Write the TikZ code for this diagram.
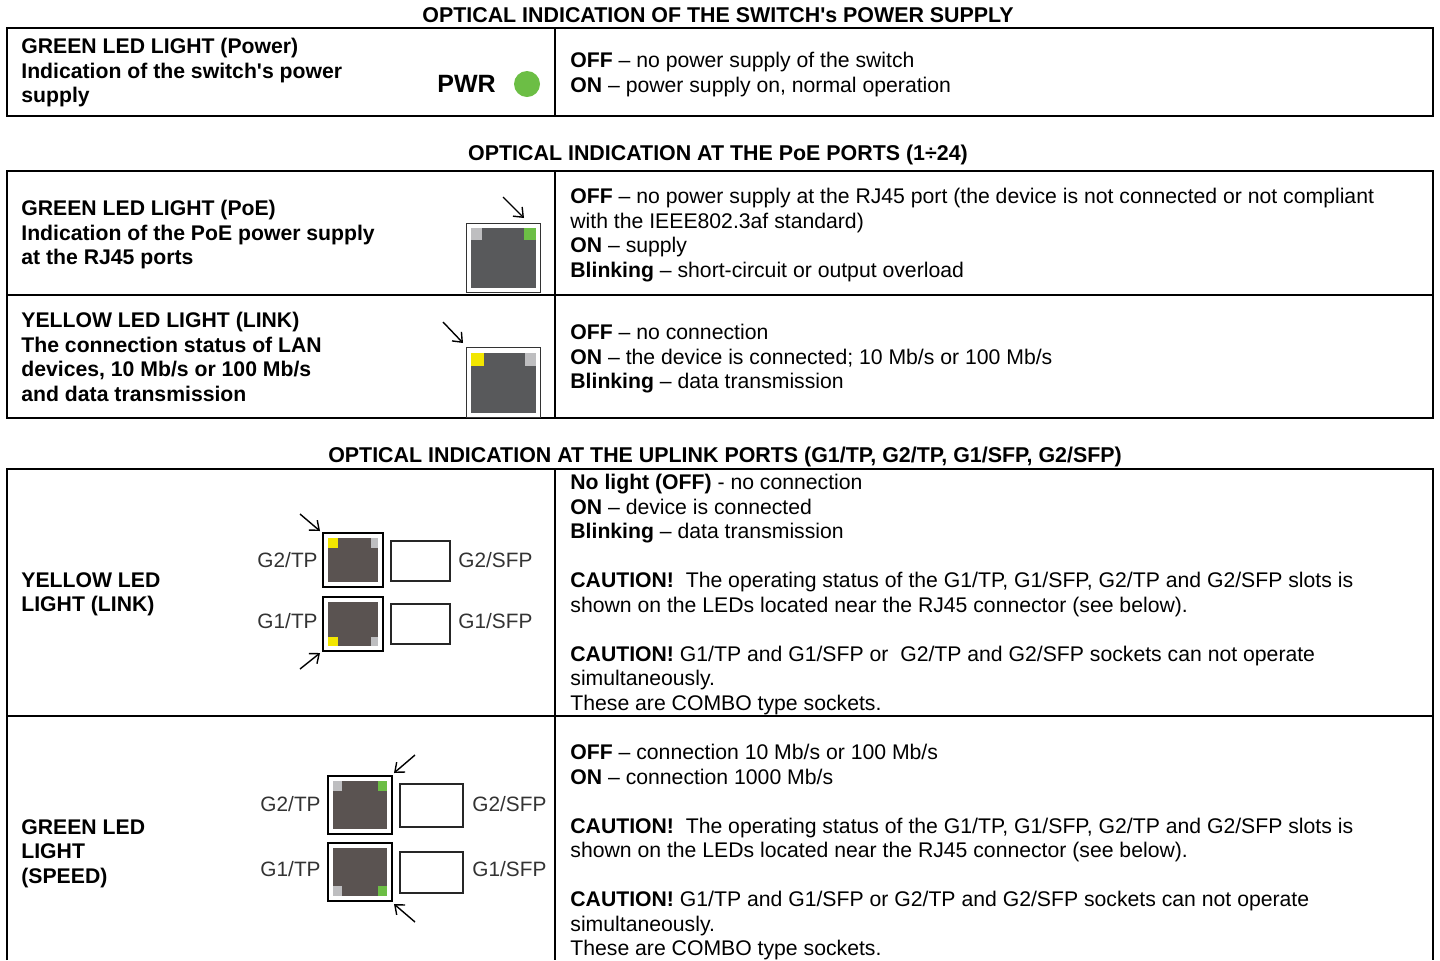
\documentclass[tikz,border=0pt]{standalone}
\usepackage{fontspec}
\setmainfont{Liberation Sans}
\usetikzlibrary{arrows.meta}
\definecolor{ledgreen}{RGB}{108,190,69}
\definecolor{ledyellow}{RGB}{242,230,0}
\definecolor{ledgrey}{RGB}{190,190,192}
\definecolor{jackgrey}{RGB}{88,89,91}
\definecolor{jackbrown}{RGB}{90,83,81}
\tikzset{
	frame/.style={line width=1pt},
	title/.style={font=\bfseries\fontsize{10.7}{12}\selectfont, inner sep=0pt, anchor=base},
	cell/.style={font=\fontsize{10.6}{12.25}\selectfont, inner sep=0pt, anchor=north west, align=left},
	boldcell/.style={cell, font=\bfseries\fontsize{10.6}{12.25}\selectfont},
	portlabel/.style={font=\fontsize{10.4}{12}\selectfont, text=black!80, inner sep=0pt},
	ptr/.style={-{Straight Barb[length=4pt,width=6.5pt]}, line width=0.7pt},
	poebox/.style={draw=black!80, line width=0.5pt, fill=white},
	upbox/.style={draw=black, line width=0.8pt, fill=white},
	sfpbox/.style={draw=black!85, line width=0.6pt, fill=white}
}

\begin{document}
\begin{tikzpicture}[x=0.5pt, y=-0.5pt]
				\useasboundingbox (0, 0) rectangle (1440, 960);
				
				% power supply
				\node[title] (t1) at (718, 22) {OPTICAL INDICATION OF THE SWITCH\textquotesingle s POWER SUPPLY};
				\draw[frame] (7, 28) rectangle (1433, 116);
				\draw[frame] (555, 28) -- (555, 116);
				\node[boldcell] (pwrleft) at (21, 38) {GREEN LED LIGHT (Power)\\Indication of the switch\textquotesingle s power\\supply};
				\node[inner sep=0pt, anchor=base west, font=\bfseries\fontsize{12.5}{14}\selectfont] (pwr) at (437, 92) {PWR};
				\fill[ledgreen] (527, 84) circle (13);
				\node[cell] (pwrright) at (570, 52) {\textbf{OFF} – no power supply of the switch\\\textbf{ON} – power supply on, normal operation};
				
				% PoE ports
				\node[title] (t2) at (718, 160) {OPTICAL INDICATION AT THE PoE PORTS (1÷24)};
				\draw[frame] (7, 171) rectangle (1433, 418);
				\draw[frame] (7, 295) -- (1433, 295);
				\draw[frame] (555, 171) -- (555, 418);
				
				\node[boldcell] (poeleft) at (21, 200) {GREEN LED LIGHT (PoE)\\Indication of the PoE power supply\\at the RJ45 ports};
				\draw[poebox] (466, 223) rectangle (540, 292);
				\fill[jackgrey] (471, 228) rectangle (536, 288);
				\fill[ledgrey] (471, 228) rectangle (482, 240);
				\fill[ledgreen] (524, 228) rectangle (536, 240);
				\coordinate (poefrom) at (503, 197);
				\coordinate (poeto) at (524, 218);
				\draw[ptr] (poefrom) -- (poeto);
				\node[cell] (poeright) at (570, 188) {\textbf{OFF} – no power supply at the RJ45 port (the device is not connected or not compliant\\with the IEEE802.3af standard)\\\textbf{ON} – supply\\\textbf{Blinking} – short-circuit or output overload};
				
				\node[boldcell] (linkleft) at (21, 312) {YELLOW LED LIGHT (LINK)\\The connection status of LAN\\devices, 10 Mb/s or 100 Mb/s\\and data transmission};
				\draw[poebox] (466, 347) rectangle (540, 417);
				\fill[jackgrey] (471, 353) rectangle (536, 413);
				\fill[ledyellow] (471, 353) rectangle (484, 366);
				\fill[ledgrey] (525, 353) rectangle (536, 366);
				\coordinate (linkfrom) at (443, 322);
				\coordinate (linkto) at (463, 343);
				\draw[ptr] (linkfrom) -- (linkto);
				\node[cell] (linkright) at (570, 324) {\textbf{OFF} – no connection\\\textbf{ON} – the device is connected; 10 Mb/s or 100 Mb/s\\\textbf{Blinking} – data transmission};
				
				% uplink ports
				\node[title] (t3) at (725, 462) {OPTICAL INDICATION AT THE UPLINK PORTS (G1/TP, G2/TP, G1/SFP, G2/SFP)};
				\draw[frame] (7, 960) -- (7, 469) -- (1433, 469) -- (1433, 960);
				\draw[frame] (555, 469) -- (555, 960);
				\draw[frame] (7, 716) -- (1433, 716);
				
				% yellow link
				\node[boldcell] (upleft) at (21, 572) {YELLOW LED\\LIGHT (LINK)};
				\draw[upbox] (323, 533) rectangle (383, 587);
				\fill[jackbrown] (328, 538) rectangle (378, 582);
				\fill[ledyellow] (328, 538) rectangle (338, 548);
				\fill[ledgrey] (371, 538) rectangle (378, 548);
				\draw[upbox] (323, 597) rectangle (383, 651);
				\fill[jackbrown] (328, 602) rectangle (378, 646);
				\fill[ledyellow] (328, 637) rectangle (338, 646);
				\fill[ledgrey] (371, 637) rectangle (378, 646);
				\draw[sfpbox] (391, 541) rectangle (450, 581);
				\draw[sfpbox] (391, 604) rectangle (450, 644);
				\node[portlabel, anchor=base east] (g2tp) at (318, 567) {G2/TP};
				\node[portlabel, anchor=base east] (g1tp) at (318, 628) {G1/TP};
				\node[portlabel, anchor=base west] (g2sfp) at (458, 567) {G2/SFP};
				\node[portlabel, anchor=base west] (g1sfp) at (458, 628) {G1/SFP};
				\coordinate (upafrom) at (300, 514);
				\coordinate (upato) at (320, 531);
				\coordinate (upbfrom) at (300, 669);
				\coordinate (upbto) at (320, 653);
				\draw[ptr] (upafrom) -- (upato);
				\draw[ptr] (upbfrom) -- (upbto);
				\node[cell] (upright) at (570, 474) {\textbf{No light (OFF)} - no connection\\\textbf{ON} – device is connected\\\textbf{Blinking} – data transmission\\[12.25pt]\textbf{CAUTION!}\ \ The operating status of the G1/TP, G1/SFP, G2/TP and G2/SFP slots is\\shown on the LEDs located near the RJ45 connector (see below).\\[12.25pt]\textbf{CAUTION!} G1/TP and G1/SFP or\ \ G2/TP and G2/SFP sockets can not operate\\simultaneously.\\These are COMBO type sockets.};
				
				% green speed
				\node[boldcell] (spleft) at (21, 819) {GREEN LED\\LIGHT\\(SPEED)};
				\draw[upbox] (328, 776) rectangle (392, 834);
				\fill[jackbrown] (333, 781) rectangle (387, 829);
				\fill[ledgrey] (333, 781) rectangle (342, 791);
				\fill[ledgreen] (378, 781) rectangle (387, 791);
				\draw[upbox] (328, 843) rectangle (392, 901);
				\fill[jackbrown] (333, 848) rectangle (387, 896);
				\fill[ledgrey] (333, 886) rectangle (342, 896);
				\fill[ledgreen] (378, 886) rectangle (387, 896);
				\draw[sfpbox] (400, 784) rectangle (463, 827);
				\draw[sfpbox] (400, 852) rectangle (463, 893);
				\node[portlabel, anchor=base east] (sg2tp) at (321, 811) {G2/TP};
				\node[portlabel, anchor=base east] (sg1tp) at (321, 876) {G1/TP};
				\node[portlabel, anchor=base west] (sg2sfp) at (472, 811) {G2/SFP};
				\node[portlabel, anchor=base west] (sg1sfp) at (472, 876) {G1/SFP};
				\coordinate (spafrom) at (415, 755);
				\coordinate (spato) at (394, 773);
				\coordinate (spbfrom) at (415, 922);
				\coordinate (spbto) at (394, 904);
				\draw[ptr] (spafrom) -- (spato);
				\draw[ptr] (spbfrom) -- (spbto);
				\node[cell] (spright) at (570, 744) {\textbf{OFF} – connection 10 Mb/s or 100 Mb/s\\\textbf{ON} – connection 1000 Mb/s\\[12.25pt]\textbf{CAUTION!}\ \ The operating status of the G1/TP, G1/SFP, G2/TP and G2/SFP slots is\\shown on the LEDs located near the RJ45 connector (see below).\\[12.25pt]\textbf{CAUTION!} G1/TP and G1/SFP or G2/TP and G2/SFP sockets can not operate\\simultaneously.\\These are COMBO type sockets.};
			\end{tikzpicture}
\end{document}
